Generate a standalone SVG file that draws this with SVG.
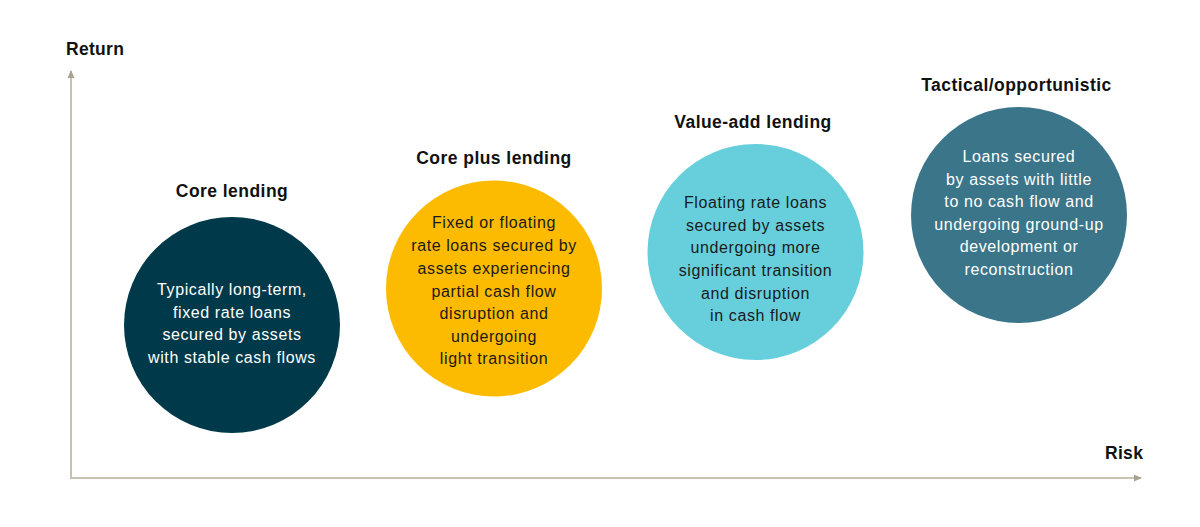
<svg xmlns="http://www.w3.org/2000/svg" width="1200" height="527" viewBox="0 0 1200 527">
  <style>
    .axis { stroke: #c8c2b4; stroke-width: 2; fill: none; }
    .title { font-family: "Liberation Sans", Arial, sans-serif; font-weight: bold; font-size: 17.5px; letter-spacing: 0.45px; fill: #111111; text-anchor: middle; }
    .axlabel { font-family: "Liberation Sans", Arial, sans-serif; font-weight: bold; font-size: 17.5px; letter-spacing: 0.3px; fill: #111111; }
    .body { font-family: "Liberation Sans", Arial, sans-serif; font-size: 16px; letter-spacing: 0.6px; text-anchor: middle; }
    .light { fill: #ffffff; }
    .dark { fill: #1a1a1a; }
  </style>
  <defs>
    <marker id="arrow" viewBox="0 0 8 8" refX="7" refY="4" markerWidth="8" markerHeight="8" markerUnits="userSpaceOnUse" orient="auto">
      <path d="M0,0.5 L8,4 L0,7.5 Z" fill="#a9a392"/>
    </marker>
  </defs>
  <rect width="1200" height="527" fill="#ffffff"/>

  <g id="connectors">
    <path class="axis" d="M71,478 L71,71" marker-end="url(#arrow)"/>
    <path class="axis" d="M70,478 L1141,478" marker-end="url(#arrow)"/>
  </g>

  <g id="axis-labels">
    <text class="axlabel" x="66" y="55">Return</text>
    <text class="axlabel" x="1105" y="459">Risk</text>
  </g>

  <g id="core">
    <text class="title" x="232" y="197">Core lending</text>
    <circle cx="232" cy="325" r="108" fill="#003a4a"/>
    <text class="body light" x="232" y="295">Typically long-term,</text>
    <text class="body light" x="232" y="317.5">fixed rate loans</text>
    <text class="body light" x="232" y="340">secured by assets</text>
    <text class="body light" x="232" y="362.5">with stable cash flows</text>
  </g>

  <g id="core-plus">
    <text class="title" x="494" y="164">Core plus lending</text>
    <circle cx="494" cy="288.5" r="108" fill="#fdbb00"/>
    <text class="body dark" x="494" y="228">Fixed or floating</text>
    <text class="body dark" x="494" y="251">rate loans secured by</text>
    <text class="body dark" x="494" y="274">assets experiencing</text>
    <text class="body dark" x="494" y="296.5">partial cash flow</text>
    <text class="body dark" x="494" y="319">disruption and</text>
    <text class="body dark" x="494" y="341.5">undergoing</text>
    <text class="body dark" x="494" y="364">light transition</text>
  </g>

  <g id="value-add">
    <text class="title" x="753" y="128">Value-add lending</text>
    <circle cx="755.5" cy="252" r="108" fill="#67cfdc"/>
    <text class="body dark" x="755.5" y="208">Floating rate loans</text>
    <text class="body dark" x="755.5" y="230.5">secured by assets</text>
    <text class="body dark" x="755.5" y="253">undergoing more</text>
    <text class="body dark" x="755.5" y="276">significant transition</text>
    <text class="body dark" x="755.5" y="298.5">and disruption</text>
    <text class="body dark" x="755.5" y="321">in cash flow</text>
  </g>

  <g id="tactical">
    <text class="title" x="1016.5" y="91">Tactical/opportunistic</text>
    <circle cx="1019" cy="215" r="108" fill="#3b7589"/>
    <text class="body light" x="1019" y="162">Loans secured</text>
    <text class="body light" x="1019" y="184.5">by assets with little</text>
    <text class="body light" x="1019" y="207">to no cash flow and</text>
    <text class="body light" x="1019" y="229.5">undergoing ground-up</text>
    <text class="body light" x="1019" y="252">development or</text>
    <text class="body light" x="1019" y="274.5">reconstruction</text>
  </g>
</svg>
